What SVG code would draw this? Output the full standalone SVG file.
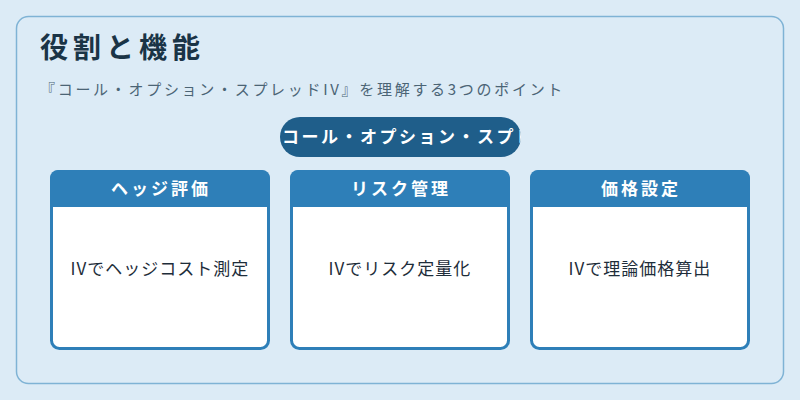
<svg xmlns="http://www.w3.org/2000/svg" width="800" height="400" viewBox="0 0 800 400">
<style>
text{font-family:"Noto Sans CJK JP","Noto Sans",sans-serif}
.card{fill:#fff;stroke:#2e7fb8;stroke-width:3}
.hd{fill:#2e7fb8}
.ht{fill:#fff;font-size:17px;font-weight:bold;text-anchor:middle;letter-spacing:3px}
.bt{fill:#1e2d3a;font-size:17px;text-anchor:middle;letter-spacing:1px}
</style>
<defs><clipPath id="pc"><rect x="280" y="117" width="241" height="40" rx="20"/></clipPath></defs>
<rect width="800" height="400" fill="#dcebf6"/>
<rect x="16.5" y="16.5" width="767" height="367" rx="12" fill="#dcebf6" stroke="#7fb3d5" stroke-width="1.5"/>
<text x="40" y="58" font-size="28" font-weight="bold" fill="#1a3446" letter-spacing="5">役割と機能</text>
<text x="40" y="95" font-size="15" fill="#4b6475" letter-spacing="2.7">『コール・オプション・スプレッドIV』を理解する3つのポイント</text>
<g id="pill"><rect x="280" y="117" width="241" height="40" rx="20" fill="#1f5e8a"/>
<text x="282" y="143" font-size="17" font-weight="bold" fill="#fff" letter-spacing="2.5" clip-path="url(#pc)">コール・オプション・スプレッドIV</text></g>
<g id="c1"><rect class="card" x="51.5" y="171.5" width="217" height="177" rx="8"/><path class="hd" d="M50 207V178a8 8 0 0 1 8-8h204a8 8 0 0 1 8 8v29z"/>
<text class="ht" x="161" y="195">ヘッジ評価</text><text class="bt" x="160" y="275">IVでヘッジコスト測定</text></g>
<g id="c2"><rect class="card" x="291.5" y="171.5" width="217" height="177" rx="8"/><path class="hd" d="M290 207V178a8 8 0 0 1 8-8h204a8 8 0 0 1 8 8v29z"/>
<text class="ht" x="401" y="195">リスク管理</text><text class="bt" x="400" y="275">IVでリスク定量化</text></g>
<g id="c3"><rect class="card" x="531.5" y="171.5" width="217" height="177" rx="8"/><path class="hd" d="M530 207V178a8 8 0 0 1 8-8h204a8 8 0 0 1 8 8v29z"/>
<text class="ht" x="641" y="195">価格設定</text><text class="bt" x="640" y="275">IVで理論価格算出</text></g>
<g id="connectors"/>
</svg>
